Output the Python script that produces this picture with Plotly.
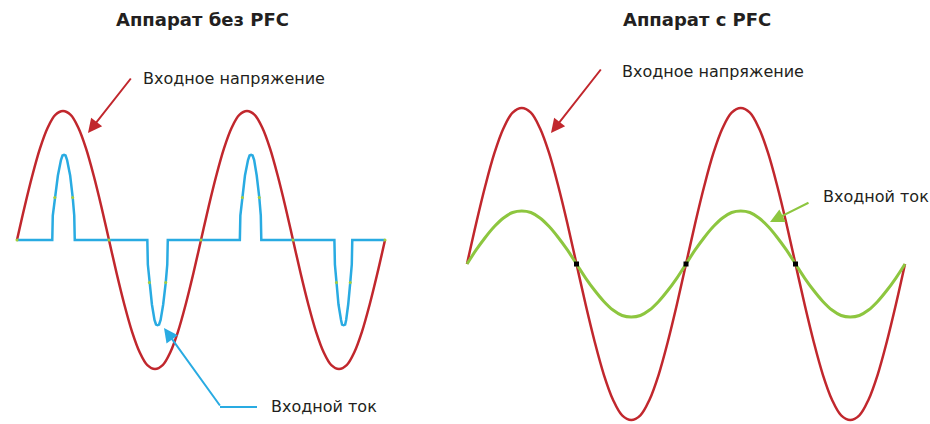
import plotly.graph_objects as go

PAGE_W, PAGE_H, OFF = 930, 424, 0
W, H = PAGE_W - OFF, PAGE_H - OFF

# ---- data (phase in degrees, values normalised to voltage peak) ----
phase = [0, 15, 30, 45, 60, 75, 90, 105, 120, 135, 150, 165, 180,
         195, 210, 225, 240, 255, 270, 285, 300, 315, 330, 345, 360,
         375, 390, 405, 420, 435, 450, 465, 480, 495, 510, 525, 540,
         555, 570, 585, 600, 615, 630, 645, 660, 675, 690, 705, 720]
voltage_left = [0, 0.26, 0.5, 0.71, 0.87, 0.97, 1, 0.97, 0.87, 0.71, 0.5, 0.26, 0,
                -0.26, -0.5, -0.71, -0.87, -0.97, -1, -0.97, -0.87, -0.71, -0.5, -0.26, 0,
                0.26, 0.5, 0.71, 0.87, 0.97, 1, 0.97, 0.87, 0.71, 0.5, 0.26, 0,
                -0.26, -0.5, -0.71, -0.87, -0.97, -1, -0.97, -0.87, -0.71, -0.5, -0.26, 0]
voltage_right = [0, 0.26, 0.5, 0.71, 0.87, 0.97, 1, 0.97, 0.87, 0.71, 0.5, 0.26, 0,
                 -0.26, -0.5, -0.71, -0.87, -0.97, -1, -0.97, -0.87, -0.71, -0.5, -0.26, 0,
                 0.26, 0.5, 0.71, 0.87, 0.97, 1, 0.97, 0.87, 0.71, 0.5, 0.26, 0,
                 -0.26, -0.5, -0.71, -0.87, -0.97, -1, -0.97, -0.87, -0.71, -0.5, -0.26, 0]
current_right = [0, 0.09, 0.17, 0.24, 0.295, 0.33, 0.34, 0.33, 0.295, 0.24, 0.17, 0.09, 0,
                 -0.09, -0.17, -0.24, -0.295, -0.33, -0.34, -0.33, -0.295, -0.24, -0.17, -0.09, 0,
                 0.09, 0.17, 0.24, 0.295, 0.33, 0.34, 0.33, 0.295, 0.24, 0.17, 0.09, 0,
                 -0.09, -0.17, -0.24, -0.295, -0.33, -0.34, -0.33, -0.295, -0.24, -0.17, -0.09, 0]

current_left_phase = [0, 69, 70, 74, 80, 86, 89, 92, 95, 98, 104, 109, 112, 113,
                      255, 256, 259, 264, 269, 272, 275, 278, 281, 286, 291, 294, 295,
                      436, 437, 441, 446, 452, 455, 458, 461, 464, 469, 474, 477, 478,
                      621, 622, 625, 629, 634, 636, 639, 642, 644, 648, 652, 655, 656, 720]
current_left = [0, 0, 0.19, 0.33, 0.5, 0.62, 0.655, 0.66, 0.655, 0.62, 0.5, 0.33, 0.19, 0,
                0, -0.19, -0.33, -0.5, -0.62, -0.655, -0.66, -0.655, -0.62, -0.5, -0.33, -0.19, 0,
                0, 0.19, 0.33, 0.5, 0.62, 0.655, 0.66, 0.655, 0.62, 0.5, 0.33, 0.19, 0,
                0, -0.19, -0.33, -0.5, -0.62, -0.655, -0.66, -0.655, -0.62, -0.5, -0.33, -0.19, 0, 0]

marks_left_phase = [0, 180, 360, 540, 720, 74, 109, 259, 291, 441, 474, 625, 652]
marks_left_value = [0, 0, 0, 0, 0, 0.33, 0.33, -0.33, -0.33, 0.33, 0.33, -0.33, -0.33]
crossings_right = [180, 360, 540]
crossings_right_value = [0, 0, 0]

titles = ["Аппарат без PFC", "Аппарат с PFC"]
label_voltage = "Входное напряжение"
label_current = "Входной ток"

RED = "#C1272D"
BLUE = "#29ABE2"
GREEN = "#8DC63F"
TEXT = "#231F20"


def lin_range(p0, p1, a, va, b, vb):
    k = (vb - va) / (b - a)
    return [va + (p0 - a) * k, va + (p1 - a) * k]


def px(x):  # page pixel -> paper
    return (x - OFF) / W


def py(y):
    return 1 - (y - OFF) / H


fig = go.Figure()

fig.add_trace(go.Scatter(x=phase, y=voltage_left, mode="lines",
                         line=dict(color=RED, width=2.5, shape="spline"),
                         xaxis="x", yaxis="y", hoverinfo="skip"))
fig.add_trace(go.Scatter(x=current_left_phase, y=current_left, mode="lines",
                         line=dict(color=BLUE, width=2.5),
                         xaxis="x", yaxis="y", hoverinfo="skip"))
fig.add_trace(go.Scatter(x=marks_left_phase, y=marks_left_value, mode="markers",
                         marker=dict(color="#A6CE39", size=3),
                         xaxis="x", yaxis="y", hoverinfo="skip"))

fig.add_trace(go.Scatter(x=phase, y=voltage_right, mode="lines",
                         line=dict(color=RED, width=2.5, shape="spline"),
                         xaxis="x2", yaxis="y2", hoverinfo="skip"))
fig.add_trace(go.Scatter(x=phase, y=current_right, mode="lines",
                         line=dict(color=GREEN, width=3, shape="spline"),
                         xaxis="x2", yaxis="y2", hoverinfo="skip"))
fig.add_trace(go.Scatter(x=crossings_right, y=crossings_right_value, mode="markers",
                         marker=dict(color="black", size=5, symbol="square"),
                         xaxis="x2", yaxis="y2", hoverinfo="skip"))

mid = OFF + W / 2
fig.update_layout(
    xaxis=dict(domain=[0, 0.5], range=lin_range(OFF, mid, 17, 0, 385, 720),
               visible=False, fixedrange=True),
    yaxis=dict(domain=[0, 1], range=lin_range(PAGE_H, OFF, 240, 0, 111, 1),
               visible=False, fixedrange=True),
    xaxis2=dict(domain=[0.5, 1], range=lin_range(mid, PAGE_W, 467, 0, 905, 720),
                visible=False, fixedrange=True),
    yaxis2=dict(domain=[0, 1], range=lin_range(PAGE_H, OFF, 264, 0, 108, 1),
                visible=False, fixedrange=True, anchor="x2"),
)

ann = []
font_title = dict(family="DejaVu Sans", size=18, color=TEXT)
font_lbl = dict(family="DejaVu Sans", size=16, color=TEXT)
ann.append(dict(text="<b>" + titles[0] + "</b>", x=px(202), y=py(20), xref="paper", yref="paper",
                xanchor="center", yanchor="middle", showarrow=False, font=font_title))
ann.append(dict(text="<b>" + titles[1] + "</b>", x=px(697), y=py(20), xref="paper", yref="paper",
                xanchor="center", yanchor="middle", showarrow=False, font=font_title))
ann.append(dict(text=label_voltage, x=px(141), y=py(78), xref="paper", yref="paper",
                xanchor="left", yanchor="middle", showarrow=False, font=font_lbl))
ann.append(dict(text=label_voltage, x=px(620), y=py(72), xref="paper", yref="paper",
                xanchor="left", yanchor="middle", showarrow=False, font=font_lbl))
ann.append(dict(text=label_current, x=px(821), y=py(197), xref="paper", yref="paper",
                xanchor="left", yanchor="middle", showarrow=False, font=font_lbl))
ann.append(dict(text=label_current, x=px(269), y=py(406), xref="paper", yref="paper",
                xanchor="left", yanchor="middle", showarrow=False, font=font_lbl))


def arrow(tip, tail, color):
    return dict(text="", x=px(tip[0]), y=py(tip[1]), xref="paper", yref="paper",
                ax=tail[0] - tip[0], ay=tail[1] - tip[1], axref="pixel", ayref="pixel",
                showarrow=True, arrowhead=2, arrowsize=1.4, arrowwidth=2,
                arrowcolor=color, standoff=0, startstandoff=0)


ann.append(arrow((88, 133), (132, 77), RED))
ann.append(arrow((551, 133), (602, 68), RED))
ann.append(arrow((770, 222), (810, 202), GREEN))
ann.append(arrow((164, 328), (221, 407), BLUE))

shapes = [dict(type="path", xref="paper", yref="paper",
               path=f"M {px(257)} {py(407)} L {px(220)} {py(407)}",
               line=dict(color=BLUE, width=2))]

fig.update_layout(
    width=W, height=H, autosize=False,
    margin=dict(l=0, r=0, t=0, b=0),
    paper_bgcolor="white", plot_bgcolor="white",
    showlegend=False, annotations=ann, shapes=shapes,
)

fig.write_html(
    "out.html",
    config={"displayModeBar": False},
    post_script="document.body.style.margin='0px';document.body.style.overflow='hidden';",
)
